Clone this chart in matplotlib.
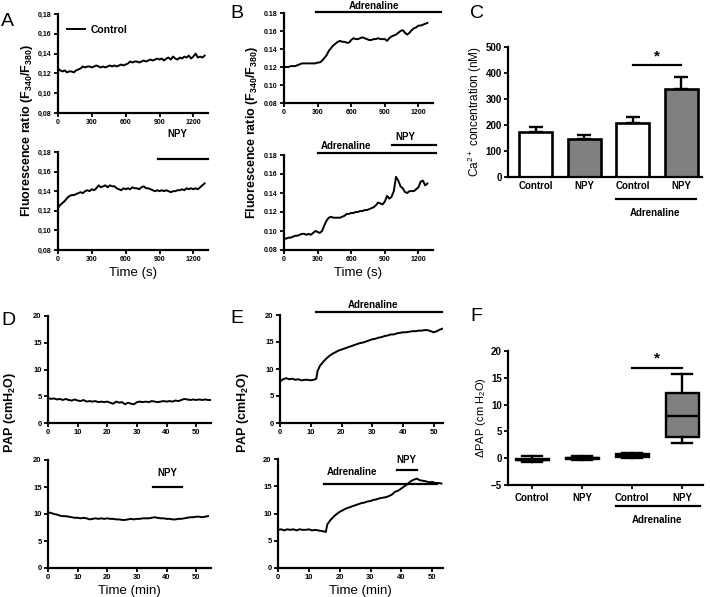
import numpy as np
import matplotlib
matplotlib.use('Agg')
import matplotlib.pyplot as plt

plt.rcParams['font.family'] = ['Liberation Sans', 'DejaVu Sans']
plt.rcParams['font.weight'] = 'bold'
plt.rcParams['mathtext.fontset'] = 'custom'
plt.rcParams['mathtext.rm'] = 'Liberation Sans'
plt.rcParams['mathtext.bf'] = 'Liberation Sans:bold'
plt.rcParams['mathtext.default'] = 'regular'

# %% data -------------------------------------------------------------
# panel A/B: fluorescence traces (time in s)
time_a = list(range(0, 1301, 20))
ratio_a_control = [0.125, 0.123, 0.122, 0.123, 0.121, 0.122, 0.122, 0.121, 0.123, 0.124,
                   0.125, 0.127, 0.126, 0.127, 0.127, 0.126, 0.127, 0.128, 0.127, 0.126,
                   0.127, 0.126, 0.127, 0.128, 0.127, 0.128, 0.127, 0.128, 0.129, 0.128,
                   0.129, 0.130, 0.132, 0.131, 0.132, 0.132, 0.131, 0.132, 0.133, 0.132,
                   0.133, 0.134, 0.133, 0.134, 0.135, 0.134, 0.135, 0.133, 0.135, 0.136,
                   0.134, 0.137, 0.135, 0.134, 0.136, 0.135, 0.137, 0.136, 0.138, 0.135,
                   0.137, 0.140, 0.136, 0.137, 0.136, 0.138]
ratio_a_npy = [0.123, 0.126, 0.128, 0.130, 0.133, 0.135, 0.136, 0.136, 0.137, 0.138,
               0.139, 0.138, 0.140, 0.141, 0.140, 0.142, 0.141, 0.143, 0.146, 0.144,
               0.145, 0.146, 0.144, 0.146, 0.145, 0.145, 0.143, 0.142, 0.141, 0.143,
               0.142, 0.143, 0.142, 0.144, 0.143, 0.143, 0.142, 0.144, 0.145, 0.143,
               0.143, 0.142, 0.141, 0.140, 0.141, 0.140, 0.141, 0.140, 0.141, 0.140,
               0.139, 0.140, 0.140, 0.141, 0.141, 0.142, 0.141, 0.143, 0.142, 0.143,
               0.142, 0.143, 0.142, 0.144, 0.146, 0.148]

time_b = list(range(0, 1281, 20))
ratio_b_adr = [0.120, 0.120, 0.120, 0.121, 0.121, 0.121, 0.122, 0.123, 0.124, 0.124,
               0.124, 0.124, 0.124, 0.124, 0.124, 0.125, 0.125, 0.127, 0.130, 0.133,
               0.138, 0.141, 0.144, 0.146, 0.148, 0.149, 0.148, 0.148, 0.147, 0.147,
               0.150, 0.152, 0.151, 0.151, 0.152, 0.153, 0.152, 0.151, 0.150, 0.150,
               0.151, 0.151, 0.152, 0.151, 0.151, 0.151, 0.149, 0.152, 0.154, 0.155,
               0.156, 0.158, 0.160, 0.161, 0.158, 0.156, 0.158, 0.161, 0.163, 0.164,
               0.166, 0.166, 0.167, 0.168, 0.169]
ratio_b_adr_npy = [0.092, 0.092, 0.093, 0.093, 0.094, 0.095, 0.095, 0.096, 0.097, 0.097,
                   0.096, 0.097, 0.096, 0.098, 0.100, 0.099, 0.098, 0.100, 0.106, 0.111,
                   0.114, 0.115, 0.114, 0.114, 0.114, 0.114, 0.115, 0.116, 0.118, 0.118,
                   0.119, 0.119, 0.120, 0.120, 0.121, 0.121, 0.122, 0.122, 0.123, 0.124,
                   0.125, 0.127, 0.130, 0.129, 0.128, 0.131, 0.137, 0.134, 0.136, 0.142,
                   0.157, 0.153, 0.147, 0.145, 0.141, 0.140, 0.142, 0.142, 0.142, 0.144,
                   0.146, 0.152, 0.153, 0.148, 0.150]

ratio_ticks = [0.08, 0.10, 0.12, 0.14, 0.16, 0.18]
ratio_labels_comma = ['0,08', '0,10', '0,12', '0,14', '0,16', '0,18']
ratio_labels_dot = ['0.08', '0.10', '0.12', '0.14', '0.16', '0.18']

# panel C: calcium concentration
groups = ['Control', 'NPY', 'Control', 'NPY']
ca_mean = [172, 145, 209, 340]
ca_err = [21, 17, 23, 45]
ca_colors = ['white', '#808080', 'white', '#808080']

# panel D/E: PAP traces (time in min)
time_d1 = list(range(0, 56))
pap_d_control = [4.7, 4.5, 4.6, 4.4, 4.5, 4.3, 4.5, 4.3, 4.2, 4.4,
                 4.2, 4.1, 4.3, 4.0, 4.1, 4.0, 4.1, 3.9, 4.0, 3.9,
                 4.0, 3.8, 3.6, 4.0, 3.8, 3.9, 3.5, 3.8, 3.6, 3.5,
                 3.9, 4.0, 3.9, 4.0, 3.9, 4.1, 4.0, 3.9, 4.0, 4.1,
                 4.0, 4.1, 4.0, 4.2, 4.1, 4.3, 4.5, 4.4, 4.3, 4.4,
                 4.3, 4.4, 4.3, 4.4, 4.3, 4.3]
time_d2 = list(range(0, 55))
pap_d_npy = [10.3, 10.2, 10.0, 9.9, 9.7, 9.6, 9.6, 9.5, 9.4, 9.3,
             9.3, 9.2, 9.3, 9.2, 9.0, 9.1, 9.2, 9.1, 9.2, 9.1,
             9.2, 9.1, 9.1, 9.0, 9.0, 8.9, 8.9, 9.0, 9.1, 9.0,
             9.1, 9.1, 9.2, 9.2, 9.2, 9.3, 9.4, 9.3, 9.2, 9.2,
             9.1, 9.1, 9.0, 9.0, 9.1, 9.1, 9.2, 9.3, 9.4, 9.4,
             9.5, 9.5, 9.4, 9.5, 9.6]

time_e1 = [0, 1, 2, 3, 4, 5, 6, 7, 8, 9, 10, 11, 11.8, 12.2] + list(range(13, 54))
pap_e_adr = [7.7, 8.1, 8.3, 8.1, 8.2, 8.0, 8.1, 7.9, 8.0, 8.0, 7.9, 8.0, 8.2, 9.6,
             10.6, 11.3, 11.9, 12.4, 12.8, 13.1, 13.4, 13.6, 13.8, 14.0,
             14.2, 14.4, 14.6, 14.8, 14.9, 15.1, 15.3, 15.5, 15.6, 15.8,
             15.9, 16.1, 16.2, 16.4, 16.4, 16.6, 16.7, 16.8, 16.8, 16.9,
             17.0, 17.0, 17.1, 17.1, 17.2, 17.2, 17.0, 16.8, 17.0, 17.3, 17.5]
time_e2 = sorted(list(range(0, 16)) + [15.5, 16] + list(range(17, 54)))
pap_e_adr_npy = [7.0, 7.1, 6.9, 7.1, 7.0, 7.1, 6.9, 7.1, 7.0, 7.0, 7.1, 6.9, 7.0, 6.9, 6.8, 6.7,
                 6.6, 8.0,
                 8.8, 9.4, 9.9, 10.3, 10.6, 10.9, 11.1, 11.3, 11.5, 11.7,
                 11.9, 12.0, 12.2, 12.3, 12.5, 12.6, 12.8, 12.9, 13.0, 13.2,
                 13.5, 14.0, 14.2, 14.6, 15.0, 15.4, 15.9, 16.2, 16.4, 16.1,
                 16.0, 15.9, 15.7, 15.8, 15.6, 15.6, 15.5]

# panel F: delta PAP box stats
box_whislo = [-0.8, -0.4, 0.1, 2.75]
box_q1 = [-0.35, -0.15, 0.2, 3.9]
box_med = [-0.25, -0.05, 0.5, 7.9]
box_q3 = [-0.15, 0.05, 0.8, 12.1]
box_whishi = [0.4, 0.5, 0.9, 15.75]
box_colors = ['white', 'white', 'black', '#808080']

# %% layout helpers ---------------------------------------------------
W, H = 710, 597
fig = plt.figure(figsize=(W / 100, H / 100), dpi=100)
TRACE_LW = 1.4


def px_axes(left, top, right, bottom):
	return fig.add_axes([left / W, 1 - bottom / H, (right - left) / W, (bottom - top) / H])


def style(ax, size=5):
	for s in ['top', 'right']:
		ax.spines[s].set_visible(False)
	for s in ['left', 'bottom']:
		ax.spines[s].set_linewidth(1.6)
	ax.tick_params(direction='out', length=3, width=1.3, labelsize=size, pad=1.5)


def trace_axes(rect, t, y, xlim, xticks, ylim, yticks, ylabels=None, size=5):
	ax = px_axes(*rect)
	ax.plot(t, y, color='black', lw=TRACE_LW)
	ax.set_xlim(*xlim)
	ax.set_ylim(*ylim)
	ax.set_xticks(xticks)
	ax.set_yticks(yticks)
	if ylabels is not None:
		ax.set_yticklabels(ylabels)
	style(ax, size)
	return ax


def bar_line(ax, x0, x1, y, text=None, ty=None, tx=None, size=7):
	ax.plot([x0, x1], [y, y], color='black', lw=1.6, clip_on=False)
	if text:
		ax.text((x0 + x1) / 2 if tx is None else tx, ty, text, ha='center', va='center',
				fontsize=size, fontweight='bold')


sec_ticks = [0, 300, 600, 900, 1200]
min_ticks = [0, 10, 20, 30, 40, 50]
pap_ticks = [0, 5, 10, 15, 20]

# %% A ----------------------------------------------------------------
axA1 = trace_axes((58, 14, 208, 113), time_a, ratio_a_control, (0, 1330), sec_ticks,
				  (0.08, 0.18), ratio_ticks, ratio_labels_comma)
axA1.lines[0].set_label('Control')
axA1.legend(loc='upper left', bbox_to_anchor=(0.03, 0.93), frameon=False, fontsize=7.5,
			handlelength=1.8, handletextpad=0.5, borderaxespad=0)
axA2 = trace_axes((58, 152, 208, 250), time_a, ratio_a_npy, (0, 1330), sec_ticks,
				  (0.08, 0.18), ratio_ticks, ratio_labels_comma)
bar_line(axA2, 890, 1330, 0.1729, 'NPY', 0.1985, tx=1060)
axA2.set_xlabel('Time (s)', fontsize=9.5, labelpad=3)
fig.text(27 / W, 1 - 130 / H, r'Fluorescence ratio (F$_{\mathbf{340}}$/F$_{\mathbf{380}}$)',
		 rotation=90, ha='center', va='center', fontsize=9)

# %% B ----------------------------------------------------------------
axB1 = trace_axes((284, 13, 433, 103), time_b, ratio_b_adr, (0, 1330), sec_ticks,
				  (0.08, 0.18), ratio_ticks, ratio_labels_dot)
bar_line(axB1, 285, 1405, 0.1811, 'Adrenaline', 0.1875, tx=800)
axB2 = trace_axes((284, 155, 433, 250), time_b, ratio_b_adr_npy, (0, 1330), sec_ticks,
				  (0.08, 0.18), ratio_ticks, ratio_labels_dot)
bar_line(axB2, 300, 1360, 0.182, 'Adrenaline', 0.1895, tx=555)
bar_line(axB2, 965, 1360, 0.1905, 'NPY', 0.1985, tx=1085)
axB2.set_xlabel('Time (s)', fontsize=9.5, labelpad=3)
fig.text(252 / W, 1 - 132 / H, r'Fluorescence ratio (F$_{\mathbf{340}}$/F$_{\mathbf{380}}$)',
		 rotation=90, ha='center', va='center', fontsize=9)

# %% C ----------------------------------------------------------------
axC = px_axes(508, 47, 702, 177)
xpos = np.arange(len(groups))
axC.bar(xpos, ca_mean, width=0.68, color=ca_colors, edgecolor='black', linewidth=1.9, zorder=2)
axC.errorbar(xpos, ca_mean, yerr=[[0] * len(ca_err), ca_err], fmt='none', ecolor='black',
			 elinewidth=1.7, capsize=5, capthick=1.7, zorder=1)
axC.set_xlim(-0.57, 3.43)
axC.set_ylim(0, 500)
axC.set_yticks([0, 100, 200, 300, 400, 500])
axC.set_xticks(xpos)
axC.set_xticklabels(groups)
style(axC, 7)
axC.tick_params(axis='x', length=0, pad=3)
bar_line(axC, 2, 3, 432)
axC.text(2.5, 462, '*', ha='center', va='center', fontsize=11, fontweight='bold')
bar_line(axC, 1.65, 3.3, -85, 'Adrenaline', -140, tx=2.47)
axC.set_ylabel(r'Ca$^{2+}$ concentration (nM)', fontsize=8.5, fontweight='normal', labelpad=1)

# %% D ----------------------------------------------------------------
axD1 = trace_axes((48, 316, 211, 423), time_d1, pap_d_control, (0, 55), min_ticks,
				  (0, 20), pap_ticks, size=5.5)
axD2 = trace_axes((48, 460, 211, 568), time_d2, pap_d_npy, (0, 55), min_ticks,
				  (0, 20), pap_ticks, size=5.5)
bar_line(axD2, 35.5, 45.2, 15.0, 'NPY', 17.5)
axD2.set_xlabel('Time (min)', fontsize=9.5, labelpad=3)
fig.text(10 / W, 1 - 412 / H, r'PAP (cmH$_{\mathbf{2}}$O)', rotation=90, ha='center',
		 va='center', fontsize=9)

# %% E ----------------------------------------------------------------
axE1 = trace_axes((280, 315, 443, 423), time_e1, pap_e_adr, (0, 53), min_ticks,
				  (0, 20), pap_ticks, size=5.5)
bar_line(axE1, 11.7, 52.6, 20.55, 'Adrenaline', 21.9, tx=30.2)
axE2 = trace_axes((278, 459, 443, 568), time_e2, pap_e_adr_npy, (0, 53.5), min_ticks,
				  (0, 20), pap_ticks, size=5.5)
bar_line(axE2, 15, 51.5, 15.4, 'Adrenaline', 17.6, tx=24)
bar_line(axE2, 38.5, 45, 18.0, 'NPY', 19.8)
axE2.set_xlabel('Time (min)', fontsize=9.5, labelpad=3)
fig.text(243 / W, 1 - 412 / H, r'PAP (cmH$_{\mathbf{2}}$O)', rotation=90, ha='center',
		 va='center', fontsize=9)

# %% F ----------------------------------------------------------------
axF = px_axes(508, 351, 703, 485)
stats = []
for i in range(len(groups)):
	stats.append(dict(whislo=box_whislo[i], q1=box_q1[i], med=box_med[i], q3=box_q3[i],
					  whishi=box_whishi[i], fliers=[]))
lp = dict(color='black', linewidth=1.7)
bp = axF.bxp(stats, positions=xpos, widths=0.66, patch_artist=True, showfliers=False,
			 boxprops=dict(edgecolor='black', linewidth=1.7), medianprops=lp,
			 whiskerprops=lp, capprops=lp, capwidths=0.4)
for patch, c in zip(bp['boxes'], box_colors):
	patch.set_facecolor(c)
axF.set_xlim(-0.48, 3.42)
axF.set_ylim(-5, 20)
axF.set_yticks([-5, 0, 5, 10, 15, 20])
axF.set_xticks(xpos)
axF.set_xticklabels(groups)
style(axF, 7)
axF.tick_params(axis='x', pad=3)
bar_line(axF, 2, 3, 16.9)
axF.text(2.5, 18.6, '*', ha='center', va='center', fontsize=11, fontweight='bold')
bar_line(axF, 1.68, 3.35, -9.0, 'Adrenaline', -11.6, tx=2.5)
axF.set_ylabel(r'$\Delta$PAP (cm H$_{2}$O)', fontsize=8, fontweight='normal', labelpad=2)

# %% panel letters ----------------------------------------------------
for letter, x, y in [('A', 1, 26), ('B', 230, 18), ('C', 470, 18),
					 ('D', 1, 325), ('E', 230, 323), ('F', 470, 321)]:
	fig.text(x / W, 1 - y / H, letter, fontsize=14, fontweight='normal', ha='left', va='baseline')

fig.savefig('out.png', dpi=100)
